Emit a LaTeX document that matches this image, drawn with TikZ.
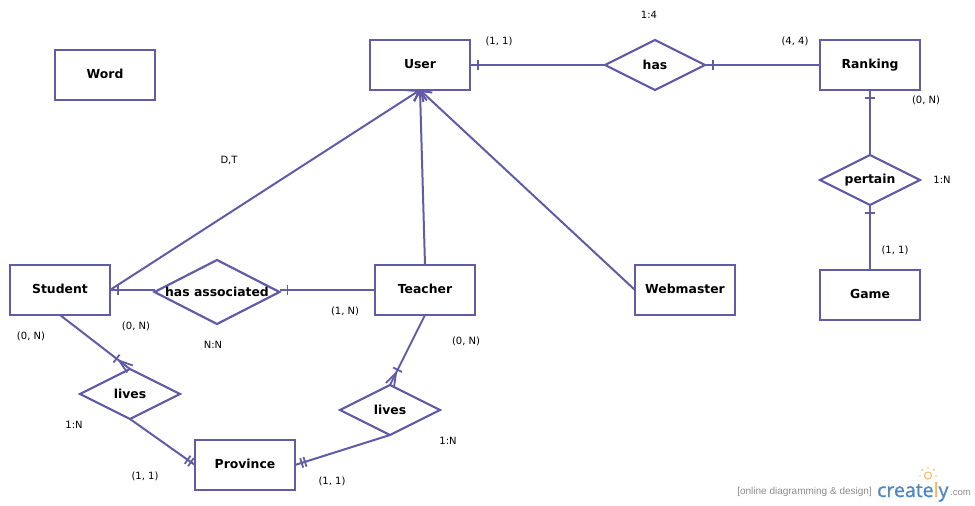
\documentclass[tikz,border=0pt]{standalone}
\usepackage{fontspec}
\setmainfont{DejaVu Sans}
\newfontfamily\logofont[FakeBold=1.2]{Open Sans}
\newfontfamily\taglinefont{Liberation Sans}
\usetikzlibrary{shapes.geometric,arrows.meta,decorations.markings}
\definecolor{erline}{RGB}{96,92,168}
\definecolor{logoblue}{RGB}{78,137,196}
\definecolor{logoorange}{RGB}{244,178,80}
\definecolor{loggray}{RGB}{140,140,140}
\tikzset{
  entity/.style={draw=erline,line width=2.2pt,fill=white,minimum width=100pt,minimum height=50pt,inner sep=0pt,outer sep=0pt,font=\fontsize{12.4pt}{14pt}\selectfont\bfseries},
  relation/.style={draw=erline,line width=2.2pt,fill=white,diamond,aspect=2,minimum width=100pt,minimum height=50pt,inner sep=0pt,outer sep=0pt,font=\fontsize{12.4pt}{14pt}\selectfont\bfseries},
  link/.style={draw=erline,line width=2pt},
  note/.style={font=\fontsize{10pt}{12pt}\selectfont,text=black,inner sep=0pt},
  isa/.style={link,-{Straight Barb[length=9pt,width=13pt,line width=2pt]}},
  tickstart/.style={postaction={decorate,decoration={markings,mark=at position 8pt with {\draw[erline,line width=1.8pt] (0,-5pt)--(0,5pt);}}}},
  crowend/.style={postaction={decorate,decoration={markings,
    mark=at position -17pt with {\draw[erline,line width=1.8pt] (0,-5pt)--(0,5pt);},
    mark=at position -13.6pt with {\draw[erline,line width=1.8pt] (13.6pt,-4.5pt)--(0,0)--(13.6pt,4.5pt);}}}},
  doubleend/.style={postaction={decorate,decoration={markings,
    mark=at position -5pt with {\draw[erline,line width=1.8pt] (0,-5pt)--(0,5pt);},
    mark=at position -9pt with {\draw[erline,line width=1.8pt] (0,-5pt)--(0,5pt);}}}},
  doublestart/.style={postaction={decorate,decoration={markings,
    mark=at position 7pt with {\draw[erline,line width=1.8pt] (0,-5pt)--(0,5pt);},
    mark=at position 10.5pt with {\draw[erline,line width=1.8pt] (0,-5pt)--(0,5pt);}}}}
}
\begin{document}
\begin{tikzpicture}[x=1pt,y=-1pt]
\useasboundingbox (0,0) rectangle (975,506);
\fill[white] (0,0) rectangle (975,506);
\node[entity] (word) at (105,75) {\raisebox{1.8pt}{Word}};
\node[entity] (user) at (420,65) {\raisebox{1.8pt}{User}};
\node[entity] (ranking) at (870,65) {\raisebox{1.8pt}{Ranking}};
\node[entity] (game) at (870,295) {\raisebox{1.8pt}{Game}};
\node[entity] (webmaster) at (685,290) {\raisebox{1.8pt}{Webmaster}};
\node[entity] (teacher) at (425,290) {\raisebox{1.8pt}{Teacher}};
\node[entity] (student) at (60,290) {\raisebox{1.8pt}{Student}};
\node[entity] (province) at (245,465) {\raisebox{1.8pt}{Province}};
\node[relation] (has) at (655,65) {\makebox[0pt]{has}};
\node[relation] (pertain) at (870,180) {\makebox[0pt]{pertain}};
\node[relation,minimum width=125pt,minimum height=64pt] (assoc) at (217,292) {\makebox[0pt]{has associated}};
\node[relation] (lives1) at (130,394) {\makebox[0pt]{lives}};
\node[relation] (lives2) at (390,410) {\makebox[0pt]{lives}};

\draw[link,tickstart] (user.east) -- (has.west);
\draw[link,tickstart] (has.east) -- (ranking.west);
\draw[link,tickstart] (ranking.south) -- (pertain.north);
\draw[link,tickstart] (pertain.south) -- (game.north);
\draw[link,tickstart] (student.east) -- (student.east -| assoc.west);
\draw[link,tickstart] (teacher.west -| assoc.east) -- (teacher.west);
\draw[isa] (student.east) -- (user.south);
\draw[isa] (teacher.north) -- (user.south);
\draw[isa] (webmaster.west) -- (user.south);
\draw[link,crowend] (student.south) -- (lives1.north);
\draw[link,crowend] (teacher.south) -- (lives2.north);
\draw[link,doubleend] (lives1.south) -- (province.west);
\draw[link,doublestart] (province.east) -- (lives2.south);

\node[note] (n1) at (649,15) {1:4};
\node[note] (n2) at (499,41) {(1, 1)};
\node[note] (n3) at (795,41) {(4, 4)};
\node[note] (n4) at (926,100) {(0, N)};
\node[note] (n5) at (942,180) {1:N};
\node[note] (n6) at (895,250) {(1, 1)};
\node[note] (n7) at (229,160) {D,T};
\node[note] (n8) at (136,326) {(0, N)};
\node[note] (n9) at (31,336) {(0, N)};
\node[note] (n10) at (213,345) {N:N};
\node[note] (n11) at (345,311) {(1, N)};
\node[note] (n12) at (466,341) {(0, N)};
\node[note] (n13) at (74,425) {1:N};
\node[note] (n14) at (448,441) {1:N};
\node[note] (n15) at (145,476) {(1, 1)};
\node[note] (n16) at (332,481) {(1, 1)};

\node[anchor=base east,inner sep=0pt,text=loggray,font=\taglinefont\fontsize{10pt}{12pt}\selectfont] (tagline) at (872,494) {[online diagramming \& design]};
\node[anchor=base west,inner sep=0pt,font=\logofont\fontsize{19.5pt}{22pt}\selectfont] (logo) at (877,497) {\textcolor{logoblue}{create}\textcolor{logoorange}{l}\textcolor{logoblue}{y}};
\node[anchor=base west,inner sep=0pt,text=loggray,font=\taglinefont\fontsize{9.5pt}{12pt}\selectfont] (dotcom) at (950,495) {.com};
\draw[logoorange,line width=0.9pt] (928,475.5) circle (3.6pt);
\draw[logoorange,line width=0.9pt] (928,469)--(928,467) (921,476)--(919,476) (935,476)--(937,476) (923,470.5)--(921.5,469) (933,470.5)--(934.5,469);
\end{tikzpicture}
\end{document}
